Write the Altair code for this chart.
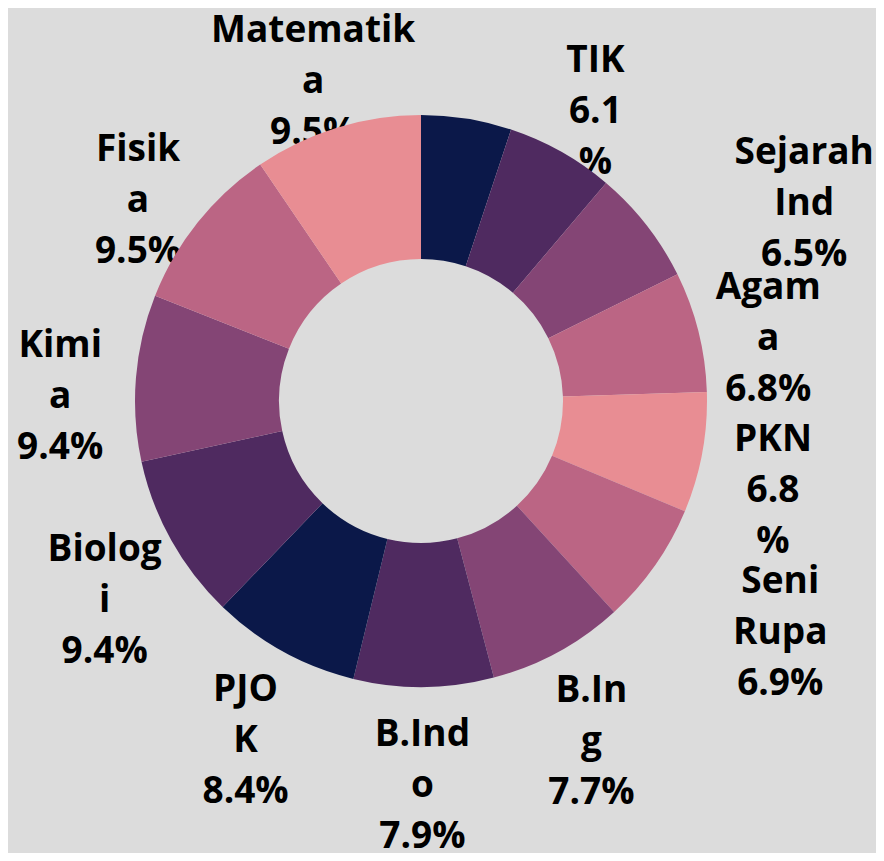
import altair as alt
import numpy as np
import pandas as pd

# ---- data ----
mapel = ["(lain)", "TIK", "Sejarah Ind", "Agama", "PKN", "Seni Rupa", "B.Ing",
         "B.Indo", "PJOK", "Biologi", "Kimia", "Fisika", "Matematika"]
persen = [5.1, 6.1, 6.5, 6.8, 6.8, 6.9, 7.7, 7.9, 8.4, 9.4, 9.4, 9.5, 9.5]
label = ["", "TIK\n6.1\n%", "Sejarah\nInd\n6.5%", "Agam\na\n6.8%", "PKN\n6.8\n%",
         "Seni\nRupa\n6.9%", "B.In\ng\n7.7%", "B.Ind\no\n7.9%", "PJO\nK\n8.4%",
         "Biolog\ni\n9.4%", "Kimi\na\n9.4%", "Fisik\na\n9.5%", "Matematik\na\n9.5%"]
palette = ["#0b1849", "#4f2a60", "#844575", "#bb6584", "#e88d93"]
warna_idx = [0, 1, 2, 3, 4, 3, 2, 1, 0, 1, 2, 3, 4]

# ---- derived geometry ----
R_OUT, R_IN, R_LAB = 286, 142, 360
CX, CY = 413, 393
FS, LH = 37, 51
LAB_DX, LAB_DY = -2, 25      # label ring offset
PAD, GAP = 6, 55             # collision handling

p = np.array(persen, dtype=float)
cum = np.cumsum(p)
tot = cum[-1]
start = (cum - p) / tot * 2 * np.pi
end = cum / tot * 2 * np.pi
mid = (start + end) / 2

# nominal label centres on a ring
lx0 = CX + LAB_DX + R_LAB * np.sin(mid)
ly = CY + LAB_DY - R_LAB * np.cos(mid)
lines = [l.split("\n") if l else [] for l in label]
hw = np.array([max((len(s) for s in ls), default=0) * 0.55 * FS / 2 for ls in lines])
hh = np.array([LH + 0.5 * FS if ls else 0 for ls in lines])

# push the wider of two colliding neighbouring labels outward horizontally
n = len(label)
shift = np.zeros(n)
for i in range(n):
    j = (i + 1) % n
    if not lines[i] or not lines[j]:
        continue
    if abs(ly[i] - ly[j]) < hh[i] + hh[j] + PAD:
        need = hw[i] + hw[j] - abs(lx0[i] - lx0[j])
        if need > 0:
            k = i if hw[i] > hw[j] else j
            shift[k] = max(shift[k], need + GAP)
lx = lx0 + np.sign(lx0 - CX) * shift

df = pd.DataFrame({
    "mapel": mapel,
    "persen": persen,
    "label": label,
    "warna": [palette[i] for i in warna_idx],
    "start": start,
    "end": end,
    "lx": lx,
    "ly": ly - LH,   # first line of a 3-line block
})

base = alt.Chart(df)

text = base.mark_text(
    font="Open Sans", fontSize=FS, fontWeight="bold", lineBreak="\n",
    lineHeight=LH, align="center", baseline="middle", color="#000000",
).encode(
    x=alt.X("lx:Q", scale=None),
    y=alt.Y("ly:Q", scale=None),
    text="label:N",
)

arcs = base.mark_arc(innerRadius=R_IN, outerRadius=R_OUT).encode(
    theta=alt.Theta("start:Q", scale=None),
    theta2="end:Q",
    color=alt.Color("warna:N", scale=None),
    x=alt.value(CX),
    y=alt.value(CY),
    tooltip=["mapel:N", "persen:Q"],
)

chart = alt.layer(text, arcs).properties(
    width=868, height=845,
    background="#dcdcdc",
    padding=0,
    autosize=alt.AutoSizeParams(type="none"),
).configure_view(stroke=None)

chart.save("out.html", embed_options={"renderer": "svg", "actions": False})
